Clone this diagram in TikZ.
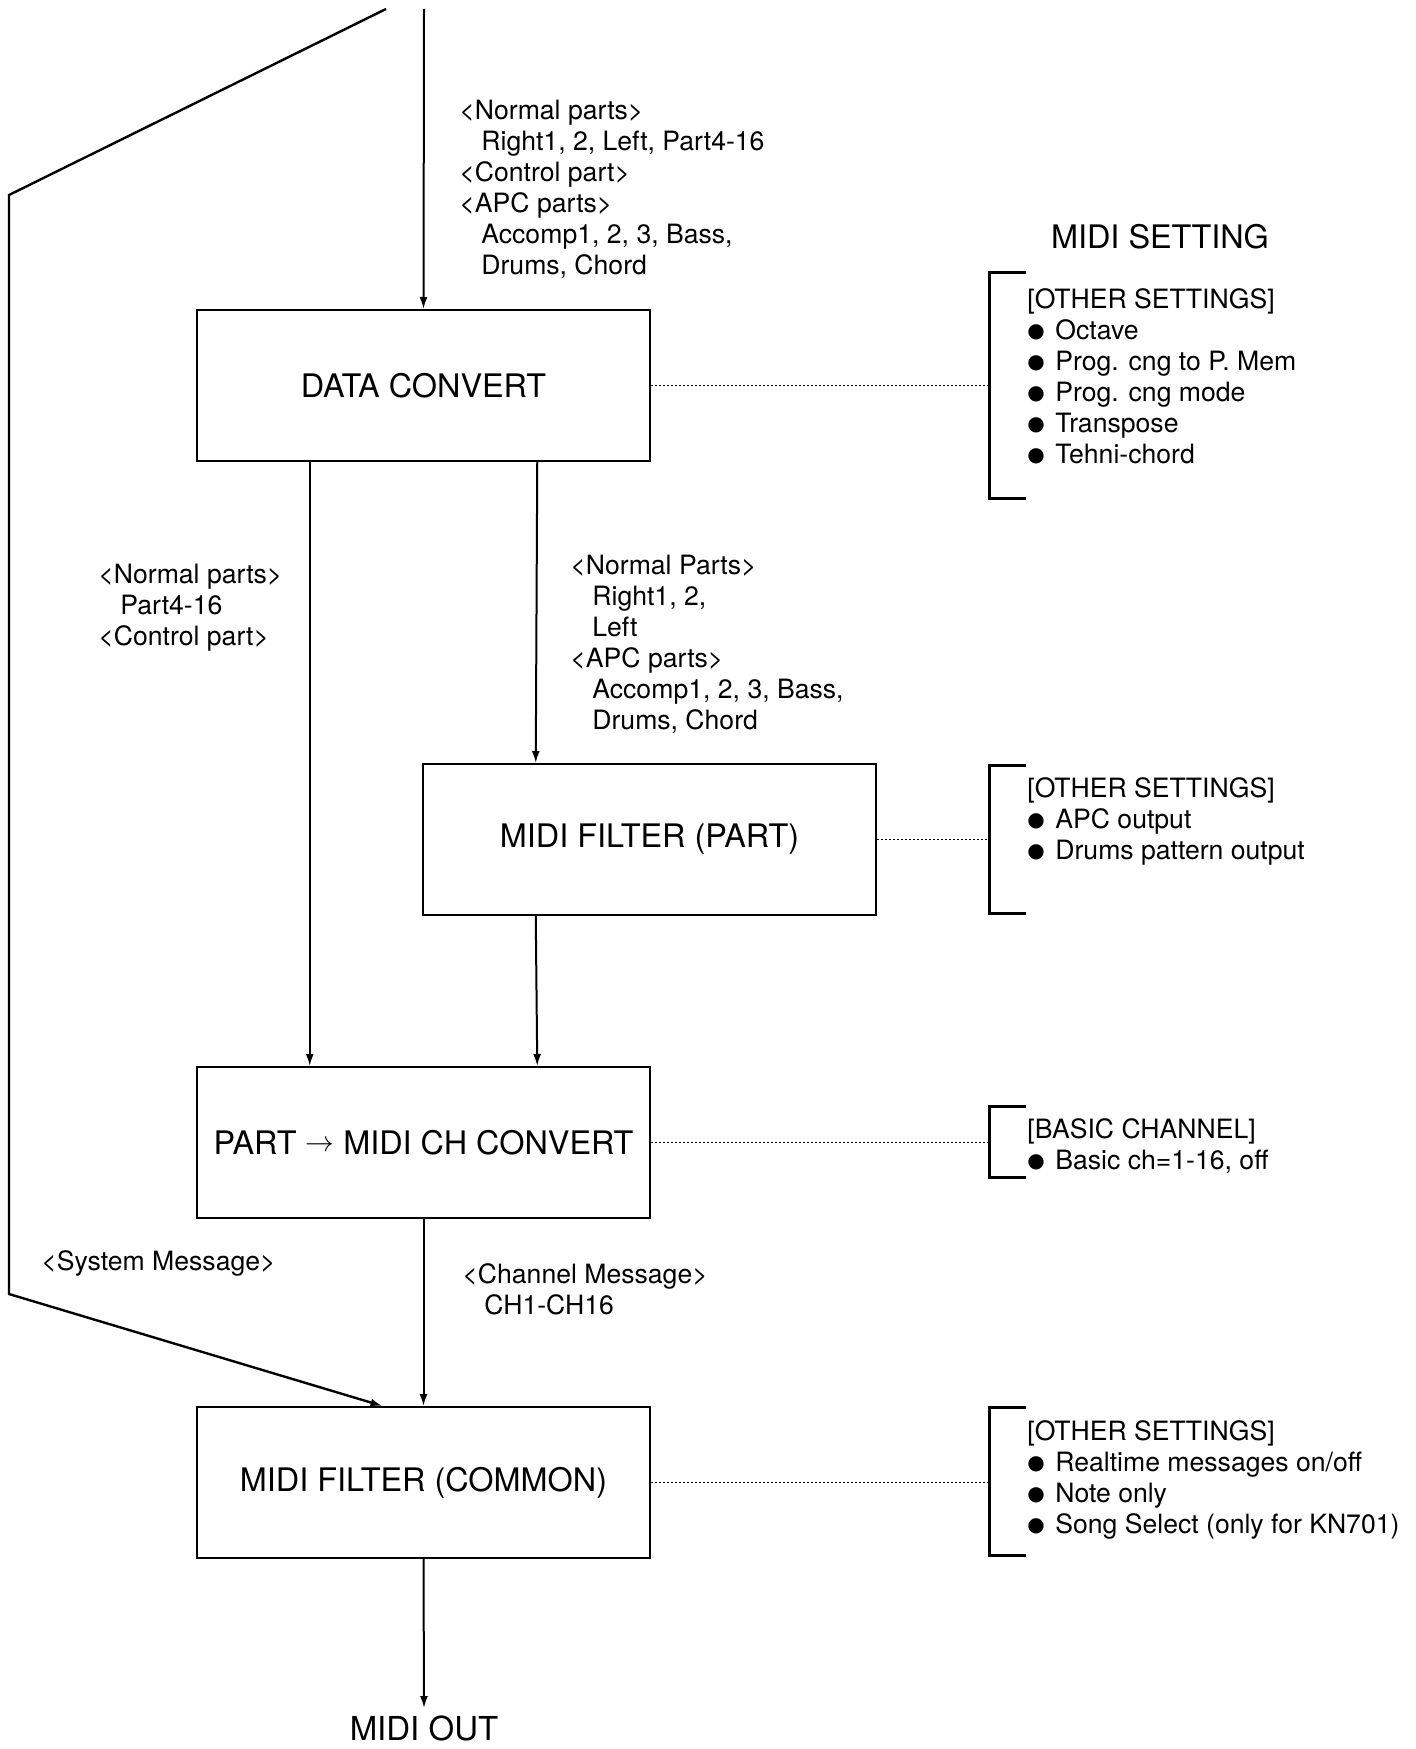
\documentclass[tikz,border=0pt]{standalone}
\usepackage{fontspec}
\setmainfont{TeX Gyre Heros}
\newfontfamily\symfont{DejaVu Sans}
\usetikzlibrary{arrows.meta, positioning, calc}
\tikzset{
    blockBox/.style={rectangle, draw=black, line width=1pt, minimum width=226.5pt, minimum height=75.5pt, inner sep=0pt, font=\fontsize{16.2}{19}\selectfont},
    flowLine/.style={-{Latex[length=6pt, width=4pt]}, line width=1pt},
    dotLine/.style={line width=0.5pt, dash pattern=on 1.2pt off 0.8pt},
    bracketLine/.style={line width=1.5pt},
    noteText/.style={anchor=north west, inner sep=0pt, align=left, font=\fontsize{13.3}{15.5}\selectfont}
}
\newcommand{\ind}{\hspace*{11pt}}
\newcommand{\bl}{\makebox[14pt][l]{\raisebox{1pt}{\symfont\fontsize{10}{10}\selectfont ●}}}
\newcommand{\toArrow}{\raisebox{1.6pt}{\fontsize{14}{14}\selectfont$\rightarrow$}}

\begin{document}
\begin{tikzpicture}[x=0.5pt, y=-0.5pt]
    \useasboundingbox (0,0) rectangle (1415,1749);

    % --- Blocks ---
    \node[blockBox] (dc)  at (423.5,385.5)  {DATA CONVERT};
    \node[blockBox] (mfp) at (649.5,839.5)  {MIDI FILTER (PART)};
    \node[blockBox] (pmc) at (423.5,1142.5) {PART \toArrow{} MIDI CH CONVERT};
    \node[blockBox] (mfc) at (423.5,1482.5) {MIDI FILTER (COMMON)};
    \node[anchor=north, inner xsep=0pt, inner ysep=3.5pt, font=\fontsize{16.5}{19}\selectfont] (midiOut) at (424,1708) {MIDI OUT};

    % --- Input and system message path ---
    \coordinate (midiIn) at (424,9);
    \coordinate (sysTop) at (386,9);
    \coordinate (sysUp) at (9,195);
    \coordinate (sysDown) at (9,1294);
    \draw[flowLine] (midiIn) -- (dc.north);
    \draw[flowLine, line width=1.2pt] (sysTop) -- (sysUp) -- (sysDown) -- ($(mfc.north)+(-41,0)$);

    % --- Flow between blocks ---
    \draw[flowLine] ($(dc.south west)!.25!(dc.south east)$) -- ($(pmc.north west)!.25!(pmc.north east)$);
    \draw[flowLine] ($(dc.south west)!.75!(dc.south east)$) -- ($(mfp.north west)!.25!(mfp.north east)$);
    \draw[flowLine] ($(mfp.south west)!.25!(mfp.south east)$) -- ($(pmc.north west)!.75!(pmc.north east)$);
    \draw[flowLine] (pmc.south) -- (mfc.north);
    \draw[flowLine] (mfc.south) -- (midiOut.north);

    % --- Flow labels ---
    \node[noteText] (inLabel) at (459,100) {<Normal parts>\\ \ind Right1, 2, Left, Part4-16\\ <Control part>\\ <APC parts>\\ \ind Accomp1, 2, 3, Bass,\\ \ind Drums, Chord};
    \node[noteText] (leftLabel) at (98,564) {<Normal parts>\\ \ind Part4-16\\ <Control part>};
    \node[noteText] (midLabel) at (570,555) {<Normal Parts>\\ \ind Right1, 2,\\ \ind Left\\ <APC parts>\\ \ind Accomp1, 2, 3, Bass,\\ \ind Drums, Chord};
    \node[noteText] (sysLabel) at (41,1250) {<System Message>};
    \node[noteText] (chLabel) at (462,1263) {<Channel Message>\\ \ind CH1-CH16};

    % --- MIDI setting brackets ---
    % #1 = name, #2 = top y, #3 = bottom y
    \newcommand{\drawBracket}[3]{
        \coordinate (#1Top) at (989,#2);
        \coordinate (#1Bot) at (989,#3);
        \draw[bracketLine] ($(#1Top)+(37,0)$) -- (#1Top) -- (#1Bot) -- ++(37,0);
    }
    \node[anchor=north, inner sep=0pt, font=\fontsize{16.2}{19}\selectfont] (setTitle) at (1160,224) {MIDI SETTING};

    \drawBracket{brA}{273}{498}
    \drawBracket{brB}{765}{913}
    \drawBracket{brC}{1106}{1177}
    \drawBracket{brD}{1407}{1555}

    \draw[dotLine] (dc.east) -- (dc.east -| brATop);
    \draw[dotLine] (mfp.east) -- (mfp.east -| brBTop);
    \draw[dotLine] (pmc.east) -- (pmc.east -| brCTop);
    \draw[dotLine] (mfc.east) -- (mfc.east -| brDTop);

    \node[noteText] (setA) at (1027,288) {[OTHER SETTINGS]\\ \bl Octave\\ \bl Prog. cng to P. Mem\\ \bl Prog. cng mode\\ \bl Transpose\\ \bl Tehni-chord};
    \node[noteText] (setB) at (1027,777) {[OTHER SETTINGS]\\ \bl APC output\\ \bl Drums pattern output};
    \node[noteText] (setC) at (1027,1118) {[BASIC CHANNEL]\\ \bl Basic ch=1-16, off};
    \node[noteText] (setD) at (1027,1420) {[OTHER SETTINGS]\\ \bl Realtime messages on/off\\ \bl Note only\\ \bl Song Select (only for KN701)};

\end{tikzpicture}
\end{document}
